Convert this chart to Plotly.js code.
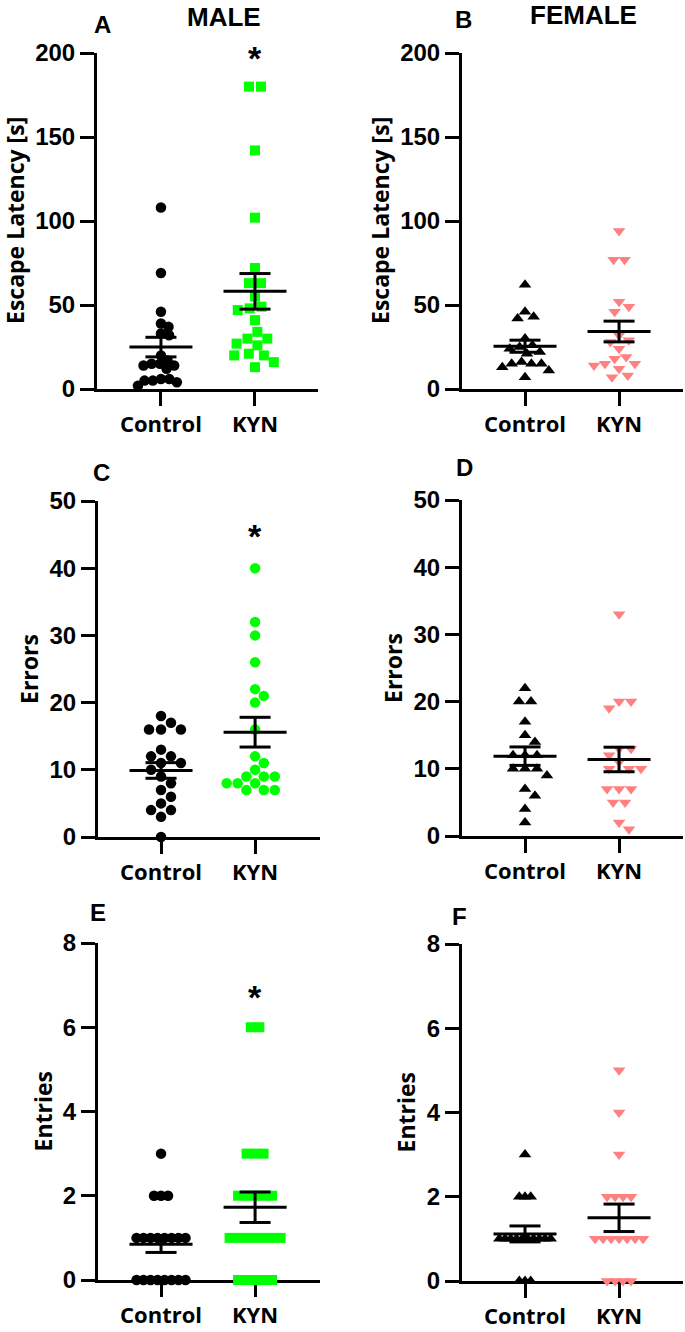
<!DOCTYPE html>
<html><head><meta charset="utf-8">
<script src="https://cdn.plot.ly/plotly-3.0.1.min.js"></script>
<style>html,body{margin:0;padding:0;background:#fff}#chart{width:685px;height:1332px}</style>
</head><body><div id="chart"></div>
<script>
// ---------------- data ----------------
const groups = ['Control', 'KYN'];
const panelLetters = ['A', 'B', 'C', 'D', 'E', 'F'];
const sexTitles = ['MALE', 'FEMALE'];
const yTitles = ['Escape Latency [s]', 'Errors', 'Entries'];

const maleLatencyControl = [108, 69, 46, 39, 37, 33, 32, 20, 17, 15, 14, 15, 14, 12, 6, 5, 5, 6, 4, 2];
const maleLatencyKYN = [180, 180, 142, 102, 72, 63, 63, 55, 49, 48, 47, 41, 34, 30, 30, 27, 26, 21, 20, 20, 16, 13];
const femaleLatencyControl = [62, 46, 43, 42, 30, 26, 25, 24, 22, 21, 16, 15, 15, 15, 13, 11, 7];
const femaleLatencyKYN = [94, 77, 77, 52, 49, 46, 32, 29, 28, 24, 19, 18, 15, 15, 14, 12, 8, 7];

const maleErrorsControl = [18, 17, 16, 16, 16, 13, 12, 12, 11, 11, 10, 9, 8, 7, 6, 5, 4, 4, 3, 0];
const maleErrorsKYN = [40, 32, 30, 26, 22, 21, 20, 16, 12, 11, 10, 9, 9, 9, 8, 8, 8, 7, 7, 7];
const femaleErrorsControl = [22, 20, 20, 17, 15, 14, 12, 12, 12, 10, 10, 10, 9, 7, 6, 4, 2];
const femaleErrorsKYN = [33, 20, 20, 19, 13, 13, 12, 11, 10, 10, 10, 7, 7, 7, 5, 5, 2, 1];

const maleEntriesControl = [3, 2, 2, 2, 1, 1, 1, 1, 1, 1, 1, 1, 0, 0, 0, 0, 0, 0, 0, 0];
const maleEntriesKYN = [6, 6, 3, 3, 3, 2, 2, 2, 2, 2, 1, 1, 1, 1, 1, 1, 1, 0, 0, 0, 0, 0];
const femaleEntriesControl = [3, 2, 2, 2, 1, 1, 1, 1, 1, 1, 1, 1, 1, 1, 0, 0, 0];
const femaleEntriesKYN = [5, 4, 3, 2, 2, 2, 2, 1, 1, 1, 1, 1, 1, 1, 0, 0, 0, 0];

// ---------------- layout / style ----------------
const W = 685, H = 1332;
const GREEN = '#00FF00', PINK = '#FF8080', BLACK = '#000000';
const maleStyle = {sym: ['circle', 'square'], col: [BLACK, GREEN], size: [10.5, 10]};
const maleStyleC = {sym: ['circle', 'circle'], col: [BLACK, GREEN], size: [10.5, 10.5]};
const femaleStyle = {sym: ['triangle-up', 'triangle-down'], col: [BLACK, PINK], size: [11, 11]};

const panels = [
  {xd: [97, 318], yd: [53, 389], yr: [0, 200], dt: 50, xr: [-0.68, 1.67], t: 0, tx: 15, data: [maleLatencyControl, maleLatencyKYN], st: maleStyle, pitch: [8.3, 12], star: 197},
  {xd: [462, 683], yd: [53, 389], yr: [0, 200], dt: 50, xr: [-0.67, 1.68], t: 0, tx: 380, data: [femaleLatencyControl, femaleLatencyKYN], st: femaleStyle, pitch: [10, 11]},
  {xd: [98, 320], yd: [501, 837], yr: [0, 50], dt: 10, xr: [-0.67, 1.69], t: 1, tx: 29, data: [maleErrorsControl, maleErrorsKYN], st: maleStyleC, pitch: [12, 11], star: 44.8},
  {xd: [462, 683], yd: [500, 836], yr: [0, 50], dt: 10, xr: [-0.67, 1.68], t: 1, tx: 393, data: [femaleErrorsControl, femaleErrorsKYN], st: femaleStyle, pitch: [12, 12]},
  {xd: [98, 320], yd: [943, 1280], yr: [0, 8], dt: 2, xr: [-0.67, 1.69], t: 2, tx: 42, data: [maleEntriesControl, maleEntriesKYN], st: maleStyle, pitch: [7, 8.5], star: 6.72},
  {xd: [462, 683], yd: [944, 1281], yr: [0, 8], dt: 2, xr: [-0.67, 1.68], t: 2, tx: 405, data: [femaleEntriesControl, femaleEntriesKYN], st: femaleStyle, pitch: [5.7, 8]}
];
const letterPos = [[102, 25], [463, 19], [101, 473], [465, 467], [98, 913], [460, 916]];
const sexPos = [[224, 17], [583, 15]];

// beeswarm in pixel space
function swarm(vals, pxY, D) {
  const idx = vals.map((v, i) => i).sort((a, b) => vals[b] - vals[a]);
  const placed = [];
  const off = new Array(vals.length).fill(0);
  for (const i of idx) {
    const y = vals[i] * pxY;
    const ivs = [];
    let bal = 0;
    for (const p of placed) {
      const dy = Math.abs(p.y - y);
      if (dy < D - 1e-9) { const w = Math.sqrt(D * D - dy * dy); ivs.push([p.x - w, p.x + w]); bal += p.x; }
    }
    const cands = [0];
    ivs.forEach(iv => cands.push(iv[0], iv[1]));
    const ok = c => ivs.every(iv => c <= iv[0] + 1e-6 || c >= iv[1] - 1e-6);
    cands.sort((a, b) => (Math.abs(a) - Math.abs(b)) || (bal > 0 ? a - b : b - a));
    let best = 0;
    for (const c of cands) { if (ok(c)) { best = c; break; } }
    off[i] = best;
    placed.push({x: best, y: y, i: i});
  }
  // recentre isolated groups of identical values
  const byVal = {};
  vals.forEach((v, i) => { (byVal[v] = byVal[v] || []).push(i); });
  Object.keys(byVal).forEach(k => {
    const g = byVal[k];
    if (g.length < 2) return;
    const v = +k;
    const isolated = vals.every(w => w === v || Math.abs(w - v) * pxY >= D);
    if (!isolated) return;
    const m = g.reduce((s, i) => s + off[i], 0) / g.length;
    g.forEach(i => off[i] -= m);
  });
  return off;
}
function stats(a) {
  const n = a.length, m = a.reduce((s, v) => s + v, 0) / n;
  const sd = Math.sqrt(a.reduce((s, v) => s + (v - m) * (v - m), 0) / (n - 1));
  return {m: m, sem: sd / Math.sqrt(n)};
}

const traces = [];
const layout = {
  width: W, height: H, margin: {l: 0, r: 0, t: 0, b: 0},
  paper_bgcolor: '#fff', plot_bgcolor: 'rgba(0,0,0,0)', showlegend: false,
  annotations: []
};
const tickFontY = {family: 'Liberation Sans, Arial, sans-serif', size: 24, color: BLACK, weight: 'bold'};
const tickFontX = {family: 'Open Sans, sans-serif', size: 22, color: BLACK, weight: 'bold'};

panels.forEach((p, k) => {
  const n = k + 1;
  const xa = 'xaxis' + (n === 1 ? '' : n), ya = 'yaxis' + (n === 1 ? '' : n);
  const xr = 'x' + (n === 1 ? '' : n), yr = 'y' + (n === 1 ? '' : n);
  const pxX = (p.xd[1] - p.xd[0]) / (p.xr[1] - p.xr[0]);
  const pxY = (p.yd[1] - p.yd[0]) / (p.yr[1] - p.yr[0]);
  layout[xa] = {
    domain: [p.xd[0] / W, p.xd[1] / W], range: p.xr, anchor: yr,
    tickmode: 'array', tickvals: [0, 1], ticktext: groups,
    ticks: 'outside', ticklen: 14, tickwidth: 3, tickcolor: BLACK,
    showline: true, linewidth: 3, linecolor: BLACK, showgrid: false, zeroline: false,
    tickfont: tickFontX, fixedrange: true, layer: 'below traces'
  };
  layout[ya] = {
    domain: [1 - p.yd[1] / H, 1 - p.yd[0] / H], range: p.yr, anchor: xr,
    tick0: 0, dtick: p.dt, ticks: 'outside', ticklen: 14, tickwidth: 3, tickcolor: BLACK,
    showline: true, linewidth: 3, linecolor: BLACK, showgrid: false, zeroline: false,
    tickfont: tickFontY, fixedrange: true, layer: 'below traces'
  };
  p.data.forEach((vals, g) => {
    const off = swarm(vals, pxY, p.pitch[g]);
    traces.push({
      type: 'scatter', mode: 'markers', xaxis: xr, yaxis: yr, cliponaxis: false,
      x: vals.map((v, i) => g + off[i] / pxX), y: vals,
      marker: {symbol: p.st.sym[g], color: p.st.col[g], size: p.st.size[g], line: {width: 0}},
      hoverinfo: 'skip'
    });
  });
  p.data.forEach((vals, g) => {
    const s = stats(vals), lo = s.m - s.sem, hi = s.m + s.sem;
    traces.push({
      type: 'scatter', mode: 'lines', xaxis: xr, yaxis: yr, cliponaxis: false,
      x: [g - 0.335, g + 0.335, null, g, g, null, g - 0.165, g + 0.165, null, g - 0.165, g + 0.165],
      y: [s.m, s.m, null, lo, hi, null, hi, hi, null, lo, lo],
      line: {color: BLACK, width: 3}, hoverinfo: 'skip'
    });
  });
  // y-axis title
  layout.annotations.push({
    xref: 'paper', yref: 'paper', x: p.tx / W, y: 1 - (p.yd[0] + p.yd[1]) / 2 / H,
    xanchor: 'center', yanchor: 'middle', textangle: -90, showarrow: false,
    text: yTitles[p.t], font: {family: 'Open Sans, sans-serif', size: 23, color: BLACK, weight: 'bold'}
  });
  // panel letter
  layout.annotations.push({
    xref: 'paper', yref: 'paper', x: letterPos[k][0] / W, y: 1 - letterPos[k][1] / H,
    xanchor: 'center', yanchor: 'middle', showarrow: false,
    text: panelLetters[k], font: {family: 'Liberation Sans, Arial, sans-serif', size: 24, color: BLACK, weight: 'bold'}
  });
  if (p.star !== undefined) {
    layout.annotations.push({
      xref: xr, yref: yr, x: 1, y: p.star, xanchor: 'center', yanchor: 'middle', showarrow: false,
      text: '*', font: {family: 'Liberation Sans, Arial, sans-serif', size: 34, color: BLACK, weight: 'bold'}
    });
  }
});
sexTitles.forEach((t, i) => {
  layout.annotations.push({
    xref: 'paper', yref: 'paper', x: sexPos[i][0] / W, y: 1 - sexPos[i][1] / H,
    xanchor: 'center', yanchor: 'middle', showarrow: false,
    text: t, font: {family: 'Liberation Sans, Arial, sans-serif', size: 26, color: BLACK, weight: 'bold'}
  });
});

Plotly.newPlot('chart', traces, layout, {staticPlot: true, displayModeBar: false});
</script>
</body></html>
